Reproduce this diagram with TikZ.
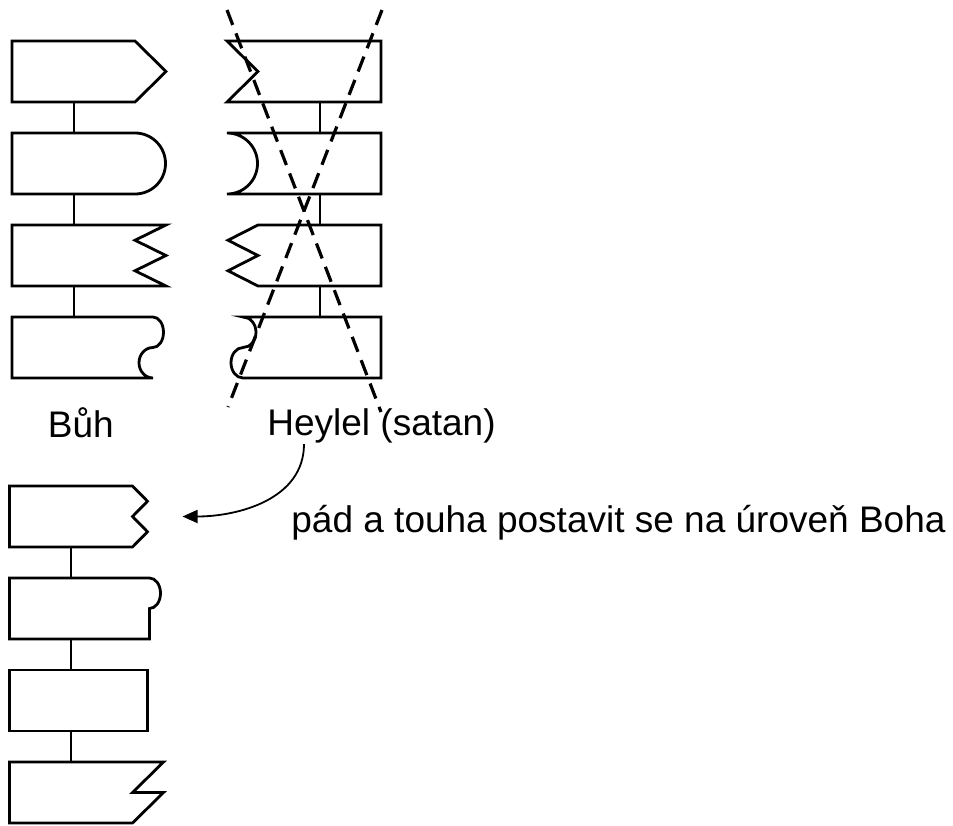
\documentclass[tikz,border=0pt]{standalone}
\usepackage{fontspec}
\setmainfont{Liberation Sans}
\usetikzlibrary{graphs, positioning, arrows.meta}

\begin{document}
\begin{tikzpicture}[x=1pt, y=1pt, node distance=31pt, line width=2.8pt,
    blok/.style={minimum width=123pt, minimum height=61pt, inner sep=0pt, outer sep=0pt},
    popis/.style={anchor=base west, inner sep=0pt, font=\fontsize{37}{44}\selectfont},
    skrt/.style={dash pattern=on 16pt off 9pt, line width=3.2pt}]

    \useasboundingbox (0,0) rectangle (953,-825);

    % Bůh
    \node[blok] at (73.5,-71.5)      (buh 1) {};
    \node[blok, below=of buh 1]      (buh 2) {};
    \node[blok, below=of buh 2]      (buh 3) {};
    \node[blok, below=of buh 3]      (buh 4) {};

    % Heylel
    \node[blok] at (319.5,-71.5)     (hey 1) {};
    \node[blok, below=of hey 1]      (hey 2) {};
    \node[blok, below=of hey 2]      (hey 3) {};
    \node[blok, below=of hey 3]      (hey 4) {};

    % po pádu
    \node[blok] at (71,-516.5)       (nov 1) {};
    \node[blok, below=of nov 1]      (nov 2) {};
    \node[blok, below=of nov 2]      (nov 3) {};
    \node[blok, below=of nov 3]      (nov 4) {};

    \draw (buh 1.north west) -- (buh 1.north east) -- ++(31,-30.5) -- (buh 1.south east) -- (buh 1.south west) -- cycle;
    \draw (buh 2.north west) -- (buh 2.north east) arc[start angle=90, end angle=-90, radius=30.5] -- (buh 2.south west) -- cycle;
    \draw (buh 3.north west) -- ++(154,0) -- ++(-31,-15.25) -- ++(31,-15.25) -- ++(-31,-15.25) -- ++(31,-15.25) -- (buh 3.south west) -- cycle;
    \draw (buh 4.north west) -- ++(141,0) arc[start angle=90, end angle=-90, x radius=10.5, y radius=15.25]
        arc[start angle=90, end angle=270, x radius=14, y radius=15.25] -- (buh 4.south west) -- cycle;

    \draw ([xshift=-31pt]hey 1.north west) -- (hey 1.north east) -- (hey 1.south east) -- ([xshift=-31pt]hey 1.south west) -- (hey 1.west) -- cycle;
    \draw ([xshift=-31pt]hey 2.north west) -- (hey 2.north east) -- (hey 2.south east) -- ([xshift=-31pt]hey 2.south west)
        arc[start angle=-90, end angle=90, radius=30.5] -- cycle;
    \draw (hey 3.north west) -- (hey 3.north east) -- (hey 3.south east) -- (hey 3.south west) -- ++(-30,15.25) -- ++(30,15.25) -- ++(-30,15.25) -- cycle;
    \draw ([xshift=-15pt]hey 4.north west) -- (hey 4.north east) -- (hey 4.south east) -- ([xshift=-15pt]hey 4.south west)
        arc[start angle=270, end angle=90, x radius=12, y radius=15.25]
        arc[start angle=-90, end angle=90, x radius=13, y radius=15.25] -- cycle;

    \draw (nov 1.north west) -- (nov 1.north east) -- ++(15,-15.25) -- ++(-15,-15.25) -- ++(15,-15.25) -- (nov 1.south east) -- (nov 1.south west) -- cycle;
    \draw (nov 2.north west) -- ++(140,0) arc[start angle=90, end angle=-90, x radius=11, y radius=15.25] -- ++(0,-30.5) -- (nov 2.south west) -- cycle;
    \draw (nov 3.north west) rectangle ([xshift=15pt]nov 3.south east);
    \draw (nov 4.north west) -- ++(154,0) -- ++(-31,-30.5) -- ++(31,0) -- (nov 4.south east) -- (nov 4.south west) -- cycle;

    \graph[edges={line width=2pt}]{
    (buh 1) -- (buh 2) -- (buh 3) -- (buh 4);
    (hey 1) -- (hey 2) -- (hey 3) -- (hey 4);
    (nov 1) -- (nov 2) -- (nov 3) -- (nov 4);
    };

    \node[popis] (buh)    at (46.5,-437) {Bůh};
    \node[popis] (heylel) at (266,-435)  {Heylel (satan)};
    \node[popis] (pad)    at (290,-532)  {pád a touha postavit se na úroveň Boha};

    % přeškrtnutí
    \coordinate (k1) at (227,-10);
    \coordinate (k2) at (381,-412);
    \coordinate (k3) at (382,-10);
    \coordinate (k4) at (228,-407);
    \draw[skrt] (k1) -- (k2);
    \draw[skrt] (k3) -- (k4);

    \draw[line width=1.8pt, -{Triangle[length=15pt, width=13pt]}]
        ([xshift=38pt]heylel.south west) to[out=-90, in=0] ([xshift=50pt]nov 1.east);
\end{tikzpicture}
\end{document}
